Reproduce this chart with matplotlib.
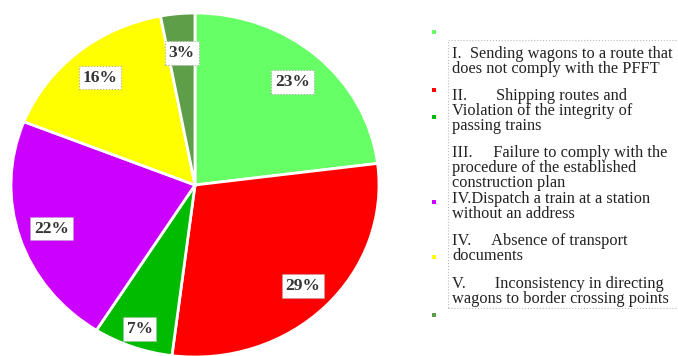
import matplotlib
matplotlib.use("Agg")
import matplotlib.pyplot as plt
from matplotlib.patches import Rectangle
import numpy as np

values = [23, 29, 7, 22, 16, 3]
pct_labels = ["23%", "29%", "7%", "22%", "16%", "3%"]
colors = ["#66FF66", "#FF0000", "#00BB00", "#CC00FF", "#FFFF00", "#5E9E48"]
legend_texts = [
    "I.  Sending wagons to a route that\ndoes not comply with the PFFT",
    "II.       Shipping routes and\nViolation of the integrity of\npassing trains",
    "III.     Failure to comply with the\nprocedure of the established\nconstruction plan",
    "IV.Dispatch a train at a station\nwithout an address",
    "IV.     Absence of transport\ndocuments",
    "V.       Inconsistency in directing\nwagons to border crossing points",
]
label_dist = [0.80, 0.83, 0.89, 0.82, 0.81, 0.77]

W, H = 678, 356
fig = plt.figure(figsize=(W / 100, H / 100), dpi=100)
fig.patch.set_facecolor("white")

# pie axes (slightly elliptical as in reference)
cx, cy, rx, ry = 195, 185, 184, 172
ax = fig.add_axes([(cx - rx) / W, 1 - (cy + ry) / H, 2 * rx / W, 2 * ry / H])
wedges, _ = ax.pie(values, colors=colors, startangle=90, counterclock=False,
                   wedgeprops=dict(edgecolor="white", linewidth=2))
ax.set_xlim(-1, 1)
ax.set_ylim(-1, 1)
ax.set_aspect("auto")
ax.axis("off")

total = sum(values)
cum = 0
for v, lab, d in zip(values, pct_labels, label_dist):
    mid = 90 - (cum + v / 2) / total * 360
    cum += v
    a = np.deg2rad(mid)
    ax.text(d * np.cos(a), d * np.sin(a), lab, ha="center", va="center",
            family="Liberation Serif", fontweight="bold", fontsize=12.5, color="#333333",
            bbox=dict(boxstyle="square,pad=0.22", facecolor="white",
                      edgecolor="#aaaaaa", linestyle=":", linewidth=0.8))

# legend
def fx(px):
    return px / W

def fy(py):
    return 1 - py / H

fig.patches.append(Rectangle((fx(448), fy(308)), fx(240), (308 - 40) / H,
                             transform=fig.transFigure, fill=False,
                             edgecolor="#bbbbbb", linestyle=":", linewidth=0.8))

bullet_y = [32, 90, 117, 202, 257, 315]
for c, by in zip(colors, bullet_y):
    fig.patches.append(Rectangle((fx(432), fy(by + 2)), 4 / W, 4 / H,
                                 transform=fig.transFigure, facecolor=c,
                                 edgecolor="none"))

text_y = [46, 88, 145, 191, 233, 276]
for t, ty in zip(legend_texts, text_y):
    fig.text(fx(452), fy(ty), t, ha="left", va="top", family="Liberation Serif",
             fontsize=11.8, color="#222222", linespacing=0.91)

fig.savefig("out.png", dpi=100)
